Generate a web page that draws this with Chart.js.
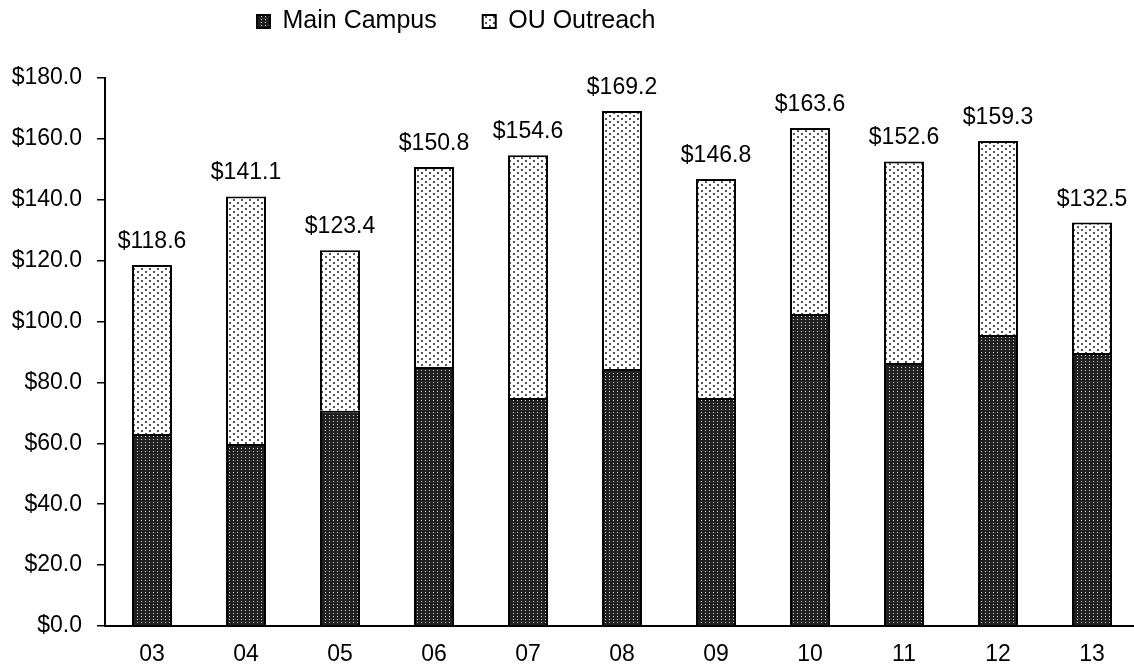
<!DOCTYPE html>
<html>
<head>
<meta charset="utf-8">
<script src="https://cdn.jsdelivr.net/npm/chart.js@4"></script>
<style>
  html, body { margin: 0; padding: 0; background: #fff; overflow: hidden; }
  #wrap { width: 1140px; height: 666px; }
</style>
</head>
<body>
<div id="wrap"><canvas id="budget"></canvas></div>
<script>
const years = ['03', '04', '05', '06', '07', '08', '09', '10', '11', '12', '13'];
const mainCampus = [63.1, 59.8, 70.7, 85.1, 74.9, 84.4, 74.9, 102.5, 86.4, 95.6, 89.7];
const ouOutreach = [55.5, 81.3, 52.7, 65.7, 79.7, 84.8, 71.9, 61.1, 66.2, 63.7, 42.8];

const FONT = 'Liberation Sans, Arial, sans-serif';
const LEGEND_GAP = 46;

// dark fill with a fine grid of light dots
function densePattern() {
  const c = document.createElement('canvas');
  c.width = 4; c.height = 3;
  const g = c.getContext('2d');
  g.fillStyle = '#202020';
  g.fillRect(0, 0, 4, 3);
  g.fillStyle = '#d4d4d4';
  g.fillRect(1, 1, 1, 1);
  return g.createPattern(c, 'repeat');
}

// white fill with staggered dark dots
function sparsePattern() {
  const c = document.createElement('canvas');
  c.width = 8; c.height = 6;
  const g = c.getContext('2d');
  g.fillStyle = '#ffffff';
  g.fillRect(0, 0, 8, 6);
  g.fillStyle = '#555555';
  g.fillRect(1, 1, 2, 2);
  g.fillRect(5, 4, 2, 2);
  return g.createPattern(c, 'repeat');
}

const totalLabels = {
  id: 'totalLabels',
  afterDatasetsDraw(chart) {
    const ctx = chart.ctx;
    const topMeta = chart.getDatasetMeta(chart.data.datasets.length - 1);
    ctx.save();
    ctx.font = '23px ' + FONT;
    ctx.fillStyle = '#000';
    ctx.textAlign = 'center';
    ctx.textBaseline = 'alphabetic';
    topMeta.data.forEach((bar, i) => {
      const total = mainCampus[i] + ouOutreach[i];
      ctx.fillText('$' + total.toFixed(1), bar.x, bar.y - 17);
    });
    ctx.restore();
  }
};

// pull the legend up and to the left of the default spot
const legendPlace = {
  id: 'legendPlace',
  afterLayout(chart) {
    const lg = chart.legend;
    const h = lg.bottom - lg.top;
    lg.top = 9 - LEGEND_GAP;
    lg.bottom = lg.top + h;
    const w = lg.right - lg.left;
    lg.left = 257 - LEGEND_GAP;
    lg.right = lg.left + w;
  }
};

Chart.defaults.font.family = FONT;
Chart.defaults.color = '#000';

new Chart(document.getElementById('budget'), {
  type: 'bar',
  data: {
    labels: years,
    datasets: [
      {
        label: 'Main Campus',
        data: mainCampus,
        backgroundColor: densePattern(),
        borderColor: '#000',
        borderWidth: 2,
        categoryPercentage: 1,
        barPercentage: 0.4255
      },
      {
        label: 'OU Outreach',
        data: ouOutreach,
        backgroundColor: sparsePattern(),
        borderColor: '#000',
        borderWidth: 2,
        categoryPercentage: 1,
        barPercentage: 0.4255
      }
    ]
  },
  options: {
    responsive: true,
    maintainAspectRatio: false,
    animation: false,
    layout: { padding: { top: 0, right: 1, bottom: 0, left: 0 } },
    plugins: {
      tooltip: { enabled: false },
      legend: {
        position: 'top',
        align: 'start',
        maxHeight: 78,
        labels: {
          boxWidth: 13,
          boxHeight: 13,
          padding: LEGEND_GAP,
          font: { size: 25 },
          color: '#000'
        }
      }
    },
    scales: {
      x: {
        stacked: true,
        grid: { display: false, drawTicks: false },
        border: { display: true, color: '#000', width: 2 },
        ticks: { font: { size: 23 }, padding: 15, color: '#000', maxRotation: 0 },
        afterFit(scale) { scale.height = 40; }
      },
      y: {
        stacked: true,
        min: 0,
        max: 180,
        grid: { drawOnChartArea: false, drawTicks: true, tickLength: 8, color: '#000', lineWidth: 1.5 },
        border: { display: true, color: '#000', width: 2 },
        ticks: {
          stepSize: 20,
          font: { size: 23 },
          padding: 15,
          color: '#000',
          callback: v => '$' + v.toFixed(1)
        },
        afterFit(scale) { scale.width = 105; }
      }
    }
  },
  plugins: [totalLabels, legendPlace]
});
</script>
</body>
</html>
